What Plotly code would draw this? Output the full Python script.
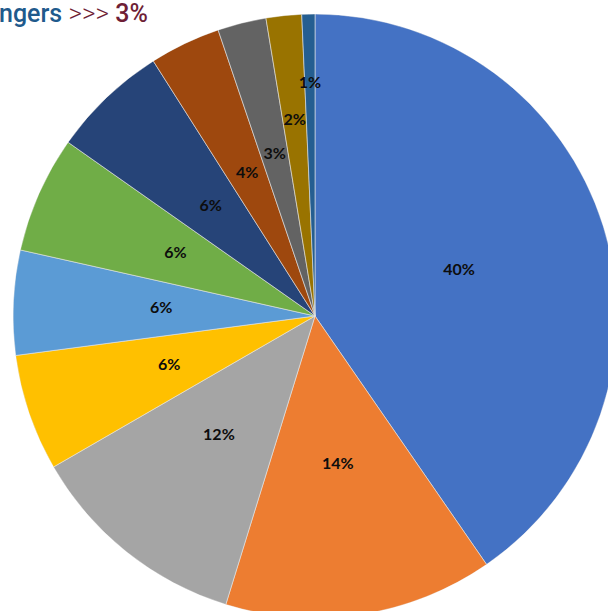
import plotly.graph_objects as go

categories = ["A", "B", "C", "D", "E", "F", "G", "H", "I", "J", "K"]
values = [40.4, 14.4, 11.9, 6.25, 5.6, 6.25, 6.25, 3.8, 2.6, 1.9, 0.7]
colors = ["#4472C4", "#ED7D31", "#A5A5A5", "#FFC000", "#5B9BD5", "#70AD47",
          "#264478", "#9E480E", "#636363", "#997300", "#255E91"]
# radial placement of the percentage labels (fraction of radius), Excel "best fit" look
label_r = [0.5, 0.5, 0.51, 0.51, 0.51, 0.505, 0.5, 0.52, 0.55, 0.65, 0.77]

total = sum(values)
widths = [v / total * 360 for v in values]
mids = []
acc = 0.0
for w in widths:
    mids.append(acc + w / 2)
    acc += w
pct_text = [f"{round(v / total * 100)}%" for v in values]

W, H = 640, 640
cx, cy, r = 315, 316, 302

fig = go.Figure()
fig.add_trace(go.Barpolar(
    r=[1] * len(values),
    theta=mids,
    width=widths,
    marker=dict(color=colors, line=dict(color="#e6e6e6", width=0.6)),
    text=categories,
    hoverinfo="text",
    showlegend=False,
))
fig.add_trace(go.Scatterpolar(
    r=label_r,
    theta=mids,
    mode="text",
    text=pct_text,
    textfont=dict(family="Lato", size=16, color="#0d0d0d", weight="bold"),
    hoverinfo="skip",
    showlegend=False,
))

fig.add_annotation(
    x=0, y=1, xref="paper", yref="paper", xanchor="left", yanchor="top",
    xshift=-3, yshift=4, showarrow=False,
    text=("<span style='color:#1F5A8C;font-size:25px;font-weight:500'>ngers</span>"
          "<span style='color:#6E1E36;font-size:26px;font-weight:300'> &gt;&gt;&gt; </span>"
          "<span style='color:#6E1E36;font-size:25px;font-weight:500'>3%</span>"),
    font=dict(family="Roboto"),
)

fig.update_layout(
    width=W, height=H,
    margin=dict(l=0, r=0, t=0, b=0),
    paper_bgcolor="white",
    polar=dict(
        domain=dict(x=[(cx - r) / W, (cx + r) / W], y=[(H - cy - r) / H, (H - cy + r) / H]),
        bgcolor="rgba(0,0,0,0)",
        bargap=0,
        radialaxis=dict(range=[0, 1], visible=False, showgrid=False),
        angularaxis=dict(rotation=90, direction="clockwise", visible=False, showgrid=False),
    ),
)

fig.write_html(
    "out.html",
    config={"displayModeBar": False},
    post_script="document.body.style.margin='0';document.body.style.overflow='hidden';",
)
